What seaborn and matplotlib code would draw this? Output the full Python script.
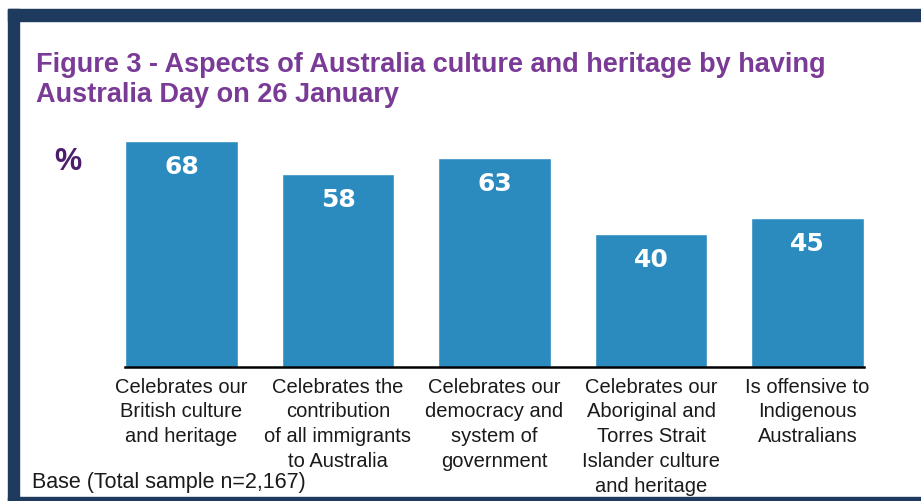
import matplotlib
matplotlib.use("Agg")
import matplotlib.pyplot as plt
from matplotlib.patches import Rectangle
import seaborn as sns
import pandas as pd

# Data
categories = [
    "Celebrates our\nBritish culture\nand heritage",
    "Celebrates the\ncontribution\nof all immigrants\nto Australia",
    "Celebrates our\ndemocracy and\nsystem of\ngovernment",
    "Celebrates our\nAboriginal and\nTorres Strait\nIslander culture\nand heritage",
    "Is offensive to\nIndigenous\nAustralians",
]
values = [68, 58, 63, 40, 45]

title = "Figure 3 - Aspects of Australia culture and heritage by having\nAustralia Day on 26 January"
base_note = "Base (Total sample n=2,167)"

BAR = "#2b8bbf"
PURPLE = "#7a3b97"
DARK_PURPLE = "#4b1d6b"
NAVY = "#1f3a5f"

sns.set_style("white")
plt.rcParams["font.family"] = ["Liberation Sans", "DejaVu Sans"]

df = pd.DataFrame({"aspect": categories, "pct": values})

fig = plt.figure(figsize=(9.21, 5.02), dpi=100)
ax = fig.add_axes([125 / 921, (502 - 368) / 502, 739 / 921, 232.4 / 502])

sns.barplot(data=df, x="aspect", y="pct", color=BAR, saturation=1,
            width=0.722, ax=ax)

# value labels inside the top of each bar
for i, v in enumerate(values):
    ax.annotate(str(v), (i, v), xytext=(0, -23), textcoords="offset points",
                ha="center", va="baseline", color="white", fontsize=18,
                fontweight="bold", family="DejaVu Sans")

ax.set_xlim(-0.361, 4.361)
ax.set_ylim(0, 70)
ax.set_xlabel("")
ax.set_ylabel("")
ax.set_yticks([])
for s in ["top", "right", "left"]:
    ax.spines[s].set_visible(False)
ax.spines["bottom"].set_color("black")
ax.spines["bottom"].set_linewidth(1.8)
ax.tick_params(axis="x", length=0, pad=7, labelsize=14.5, labelcolor="#1a1a1a")
for lbl in ax.get_xticklabels():
    lbl.set_linespacing(1.38)

# frame around the figure (left, top, bottom strips)
fig.patches.append(Rectangle((8 / 921, 0), 11 / 921, (502 - 10) / 502,
                             transform=fig.transFigure, color=NAVY, zorder=0))
fig.patches.append(Rectangle((8 / 921, (502 - 22) / 502), 913 / 921, 12 / 502,
                             transform=fig.transFigure, color=NAVY, zorder=0))
fig.patches.append(Rectangle((8 / 921, 0), 913 / 921, 4 / 502,
                             transform=fig.transFigure, color=NAVY, zorder=0))

# baseline of the last title line
fig.text(36 / 921, (502 - 102) / 502, title, ha="left", va="baseline",
         color=PURPLE, fontsize=19.5, fontweight="bold", linespacing=1.18)
fig.text(68 / 921, (502 - 161.5) / 502, "%", ha="center", va="center",
         color=DARK_PURPLE, fontsize=22, fontweight="bold")
fig.text(32 / 921, (502 - 488) / 502, base_note, ha="left", va="baseline",
         color="#1a1a1a", fontsize=15.5)

fig.savefig("out.png", dpi=100)
